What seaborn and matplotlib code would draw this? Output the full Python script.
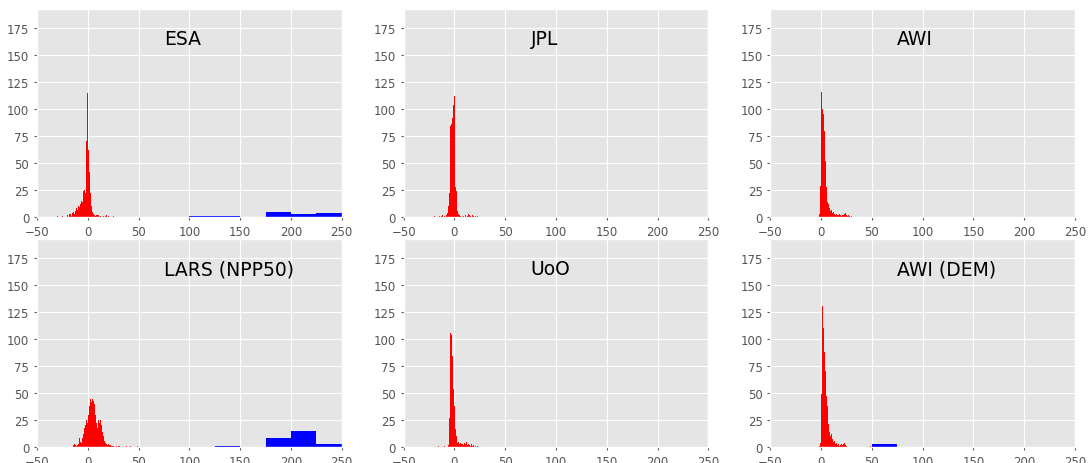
import numpy as np
import pandas as pd
import matplotlib
matplotlib.use("Agg")
import matplotlib.pyplot as plt
import seaborn as sns

# ---------------- data (bin left edge -> count) ----------------
names = ["ESA", "JPL", "AWI", "LARS (NPP50)", "UoO", "AWI (DEM)"]

esa_x = [-30, -25, -20, -18, -17, -16, -15, -14, -13, -12, -11, -10, -9, -8, -7, -6, -5, -4, -3, -2, -1,
         0, 1, 2, 3, 4, 5, 6, 7, 8, 9, 10, 12, 15, 17, 18, 20, 25]
esa_c = [1, 1, 2, 3, 1, 4, 5, 3, 6, 8, 7, 10, 9, 12, 15, 14, 24, 25, 22, 70, 115,
         62, 42, 22, 10, 5, 3, 2, 1, 2, 2, 2, 1, 1, 1, 2, 1, 1]

jpl_x = [-20, -15, -13, -12, -10, -8, -7, -6, -5, -4, -3, -2, -1, 0, 1, 2, 3, 4, 5, 6, 8, 10, 12,
         13, 14, 15, 17, 18, 20, 22]
jpl_c = [1, 1, 1, 2, 1, 2, 4, 10, 22, 84, 86, 92, 104, 112, 28, 24, 6, 3, 2, 1, 1, 2, 1,
         3, 2, 1, 2, 1, 1, 1]

awi_x = [-2, -1, 0, 1, 2, 3, 4, 5, 6, 7, 8, 9, 10, 11, 12, 13, 14, 15, 16, 17, 18, 19, 20, 21, 22,
         23, 24, 25, 26, 27, 28, 30]
awi_c = [3, 29, 116, 100, 95, 80, 52, 28, 14, 12, 8, 6, 7, 4, 5, 3, 2, 3, 2, 2, 3, 2, 1, 2, 2,
         3, 4, 2, 1, 2, 1, 1]

lars_x = [-15, -14, -13, -12, -11, -10, -9, -8, -7, -6, -5, -4, -3, -2, -1, 0, 1, 2, 3, 4, 5, 6, 7,
          8, 9, 10, 11, 12, 13, 14, 15, 16, 17, 18, 19, 20, 21, 22, 23, 24, 25, 28, 30, 31, 38, 42, 48]
lars_c = [2, 3, 2, 1, 2, 3, 8, 5, 4, 8, 12, 18, 20, 25, 22, 30, 38, 44, 42, 44, 43, 40, 30,
          22, 18, 25, 22, 25, 20, 14, 10, 6, 4, 3, 2, 3, 2, 2, 1, 1, 1, 1, 1, 1, 1, 1, 1]

uoo_x = [-16, -10, -6, -5, -4, -3, -2, -1, 0, 1, 2, 3, 4, 5, 6, 7, 8, 9, 10, 11, 12, 13, 14, 15,
         16, 17, 18, 20, 22]
uoo_c = [1, 1, 2, 27, 106, 104, 84, 54, 38, 17, 10, 4, 5, 3, 4, 3, 2, 4, 3, 5, 2, 3, 2, 1,
         3, 1, 2, 1, 1]

dem_x = [-2, -1, 0, 1, 2, 3, 4, 5, 6, 7, 8, 9, 10, 11, 12, 13, 14, 15, 16, 17, 18, 19, 20, 21,
         22, 23, 24, 25, 48]
dem_c = [1, 4, 49, 131, 110, 88, 70, 47, 38, 21, 14, 10, 12, 7, 5, 6, 3, 4, 2, 3, 1, 2, 3, 2,
         3, 4, 2, 1, 1]

# outliers (25-unit bins, left edge -> count)
esa_bx = [100, 125, 175, 200, 225]
esa_bc = [1, 1, 5, 3, 4]
lars_bx = [125, 175, 200, 225]
lars_bc = [1, 8, 15, 3]
dem_bx = [50]
dem_bc = [3]

red_sets = [(esa_x, esa_c), (jpl_x, jpl_c), (awi_x, awi_c),
            (lars_x, lars_c), (uoo_x, uoo_c), (dem_x, dem_c)]
blue_sets = [(esa_bx, esa_bc), ([], []), ([], []),
             (lars_bx, lars_bc), ([], []), (dem_bx, dem_bc)]

# ---------------- plot ----------------
plt.style.use("ggplot")
fig, axes = plt.subplots(2, 3, figsize=(10.88, 4.64), dpi=100)
fig.subplots_adjust(left=0.034, right=0.988, top=0.978, bottom=0.0345,
                    wspace=0.203, hspace=0.106)

fine_bins = list(range(-50, 251, 1))
wide_bins = list(range(-50, 251, 25))

for ax, name, (rx, rc), (bx, bc) in zip(axes.flat, names, red_sets, blue_sets):
    df = pd.DataFrame({"x": np.array(rx) + 0.5, "w": rc})
    sns.histplot(data=df, x="x", weights="w", bins=fine_bins, color="red",
                 alpha=1, linewidth=0, ax=ax)
    if len(bx):
        dfb = pd.DataFrame({"x": np.array(bx) + 12.5, "w": bc})
        sns.histplot(data=dfb, x="x", weights="w", bins=wide_bins, color="blue",
                     alpha=1, linewidth=0, ax=ax)
    ax.set_xlim(-50, 250)
    ax.set_ylim(0, 192.5)
    ax.set_xticks(np.arange(-50, 251, 50))
    ax.set_yticks(np.arange(0, 176, 25))
    ax.set_xlabel("")
    ax.set_ylabel("")
    ax.tick_params(labelsize=8.5, colors="#555555", length=2)
    ax.text(75, 160, name, fontsize=13.5, color="black")

fig.savefig("out.png", dpi=100)
